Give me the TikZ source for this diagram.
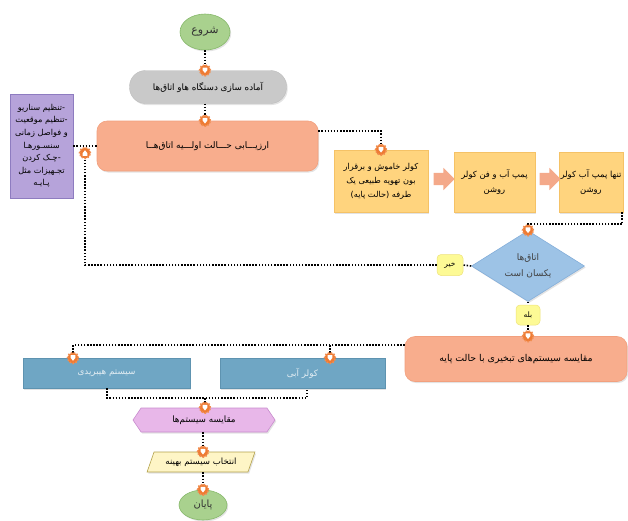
\documentclass[tikz,border=0pt]{standalone}
\usepackage{fontspec}
\newfontfamily\arabicfont[Script=Arabic]{DejaVu Sans}
\TeXXeTstate=1
\usetikzlibrary{shapes.geometric,shapes.symbols,shapes.arrows,shadows,calc}
\newcommand\ar[1]{\beginR #1\endR}
\definecolor{grF}{HTML}{A9D18E}\definecolor{grD}{HTML}{86B86A}
\definecolor{gyF}{HTML}{C9C9C9}\definecolor{gyD}{HTML}{BDBDBD}
\definecolor{orF}{HTML}{F8AD8D}\definecolor{orD}{HTML}{F2A07E}
\definecolor{puF}{HTML}{B6A3DA}\definecolor{puD}{HTML}{8E7CC0}
\definecolor{ylF}{HTML}{FFD47E}\definecolor{ylD}{HTML}{F5C266}
\definecolor{arF}{HTML}{F4A98A}
\definecolor{diF}{HTML}{9DC3E6}\definecolor{diD}{HTML}{84AEDA}
\definecolor{lbF}{HTML}{FDFA95}\definecolor{lbD}{HTML}{EDE27A}
\definecolor{blF}{HTML}{6FA6C4}\definecolor{blD}{HTML}{5E93B0}
\definecolor{hxF}{HTML}{E8B7E9}\definecolor{hxD}{HTML}{C88CCD}
\definecolor{paF}{HTML}{FEF5C6}\definecolor{paD}{HTML}{B3A24C}
\definecolor{mkor}{HTML}{EE7B33}
\begin{document}
\begin{tikzpicture}[x=1pt,y=-1pt,
  every node/.style={font=\arabicfont\fontsize{8.8}{11}\selectfont, inner sep=2pt},
  shd/.style={drop shadow={opacity=0.22, shadow xshift=1.2pt, shadow yshift=-1.5pt}},
  startend/.style={ellipse, fill=grF, draw=grD, line width=0.6pt, shd, text=black!80},
  prepbox/.style={rectangle, rounded corners=16pt, fill=gyF, draw=gyD, shd},
  orbox/.style={rectangle, rounded corners=10pt, fill=orF, draw=orD, line width=0.6pt, shd},
  pubox/.style={rectangle, fill=puF, draw=puD, line width=0.6pt, align=center, inner sep=1pt},
  ylbox/.style={rectangle, fill=ylF, draw=ylD, line width=0.5pt, align=center, shd},
  blkarrow/.style={single arrow, fill=arF, draw=none, inner sep=6pt, single arrow head extend=5pt, minimum height=21pt},
  decision/.style={diamond, fill=diF, draw=diD, line width=0.6pt, inner sep=0pt, align=center, shd, text=black!75},
  lbl/.style={rectangle, rounded corners=4pt, fill=lbF, draw=lbD, line width=0.5pt, font=\arabicfont\fontsize{7.5}{8}\selectfont},
  blbox/.style={rectangle, fill=blF, draw=blD, line width=0.5pt, text=white!80!blF, shd},
  hexbox/.style={signal, signal to=west and east, signal pointer angle=112, fill=hxF, draw=hxD, line width=0.6pt, inner sep=1pt, shd, font=\arabicfont\fontsize{8.8}{10}\selectfont},
  parabox/.style={trapezium, trapezium left angle=63, trapezium right angle=117, trapezium stretches=true, fill=paF, draw=paD, line width=0.6pt, inner sep=1pt, shd, font=\arabicfont\fontsize{8.6}{9}\selectfont},
  conn/.style={draw=black, line width=1.6pt, dash pattern=on 1.5pt off 1.6pt},
  mk/.style={circle, fill=mkor, draw=mkor!85!white, inner sep=0pt, minimum size=11pt,
    path picture={\fill[white] ($(path picture bounding box.center)+(-2.4,-2.8)$) -- ++(4.8,0) -- ++(0,2.6) -- ++(-2.4,3) -- ++(-2.4,-3) -- cycle;}},
  mkup/.style={circle, fill=mkor, draw=mkor!85!white, inner sep=0pt, minimum size=11pt,
    path picture={\fill[white] ($(path picture bounding box.center)+(-2.4,2.8)$) -- ++(4.8,0) -- ++(0,-2.6) -- ++(-2.4,-3) -- ++(-2.4,3) -- cycle;}}
]
\useasboundingbox (0,0) rectangle (628,520);

% nodes
\node[startend, minimum width=50pt, minimum height=36pt, font=\arabicfont\fontsize{11}{12}\selectfont] (start) at (205,32) {\ar{شروع}};
\node[prepbox, minimum width=157pt, minimum height=33pt] (prep) at (208,87) {\ar{آماده سازی دستگاه هاو اتاق‌ها}};
\node[orbox, minimum width=221pt, minimum height=50pt, font=\arabicfont\fontsize{9}{11}\selectfont] (eval) at (207.5,146) {\ar{ارزیـــابی حـــالت اولـــیه اتاق‌هــا}};
\node[pubox, minimum width=63pt, minimum height=104pt, font=\arabicfont\fontsize{8.2}{12.6}\selectfont] (purple) at (41.5,146)
  {\ar{-تنظیم سناریو}\\\ar{-تنظیم موقعیت}\\\ar{و فواصل زمانی}\\\ar{سنسـورهـا}\\\ar{-چـک کردن}\\\ar{تجـهیزات مثل}\\\ar{پـایـه}};
\node[ylbox, minimum width=94pt, minimum height=62pt, inner sep=1pt, font=\arabicfont\fontsize{8.2}{14}\selectfont] (y1) at (381,181)
  {\ar{کولر خاموش و برقرار}\\\ar{بون تهویه طبیعی یک}\\\ar{طرفه (حالت پایه)}};
\node[ylbox, minimum width=81pt, minimum height=60pt, font=\arabicfont\fontsize{8.4}{15}\selectfont] (y2) at (494.5,182)
  {\ar{پمپ آب و فن کولر}\\\ar{روشن}};
\node[ylbox, minimum width=64pt, minimum height=60pt, inner sep=0pt, text width=64pt, font=\arabicfont\fontsize{8.4}{15}\selectfont] (y3) at (591,182)
  {\ar{تنها پمپ آب کولر}\\\ar{روشن}};
\node[blkarrow] (a1) at (441,179) {};
\node[blkarrow] (a2) at (547,179) {};
\node[decision, minimum width=113pt, minimum height=66pt, font=\arabicfont\fontsize{9}{16}\selectfont] (dia) at (528,266)
  {\ar{اتاق‌ها}\\\ar{یکسان است}};
\node[lbl, minimum width=26pt, minimum height=21pt] (no) at (450,265) {\ar{خیر}};
\node[lbl, minimum width=24pt, minimum height=20pt] (yes) at (528,315) {\ar{بله}};
\node[orbox, minimum width=222pt, minimum height=45pt, font=\arabicfont\fontsize{9.4}{11}\selectfont] (cmp) at (516,359) {\ar{مقایسه سیستم‌های تبخیری با حالت پایه}};
\node[blbox, minimum width=167pt, minimum height=30pt] (blueL) at (106.5,373) {\ar{سیستم هیبریدی}};
\node[blbox, minimum width=165pt, minimum height=30pt] (blueR) at (302.5,373) {\ar{کولر آبی}};
\node[hexbox, minimum width=142pt, minimum height=24pt] (hex) at (204,420) {\ar{مقایسه سیستم‌ها}};
\node[parabox, minimum width=108pt, minimum height=20pt] (para) at (201,462) {\ar{انتخاب سیستم بهینه}};
\node[startend, minimum width=48pt, minimum height=30pt, font=\arabicfont\fontsize{10}{11}\selectfont] (end) at (203,505) {\ar{پایان}};

% helper coordinates
\coordinate (e1) at ([yshift=15pt]eval.east);
\coordinate (bl) at (73,358);
\coordinate (br) at (330,358);
\coordinate (cw) at ([yshift=14pt]cmp.west);
\coordinate (bLb) at (107,388);
\coordinate (bRb) at (307,388);
\coordinate (jn) at (205,398);

% connectors
\draw[conn] (start.south) -- (start.south |- prep.north) node[mk] (m1) {};
\draw[conn] (prep.south -| start) -- (start |- eval.north) node[mk] (m2) {};
\draw[conn] (e1) -| (y1.north) node[mk] (m3) {};
\draw[conn] ([xshift=-1pt]y3.south east) -- ++(0,12) -| (dia.north) node[mk] (m4) {};
\draw[conn] (purple.east) -- (eval.west) coordinate[pos=0.5] (pe);
\draw[conn] (dia.west) -- (no.east);
\draw[conn] (no.west) -| ([yshift=-7pt]pe) node[mkup] (m5) {};
\draw[conn] (dia.south) -- (yes.north);
\draw[conn] (yes.south) -- (yes.south |- cmp.north) node[mk] (m6) {};
\draw[conn] (cw) -| (bl) node[mk] (m7) {};
\draw[conn] (cw -| br) -- (br) node[mk] (m8) {};
\draw[conn] (bLb) |- (jn) -| (bRb);
\draw[conn] (jn) -- (jn |- hex.north) node[mk] (m9) {};
\draw[conn] (hex.south -| end) -- (end |- para.north) node[mk] (m10) {};
\draw[conn] (para.south -| end) -- (end.north) node[mk] (m11) {};
\end{tikzpicture}
\end{document}
